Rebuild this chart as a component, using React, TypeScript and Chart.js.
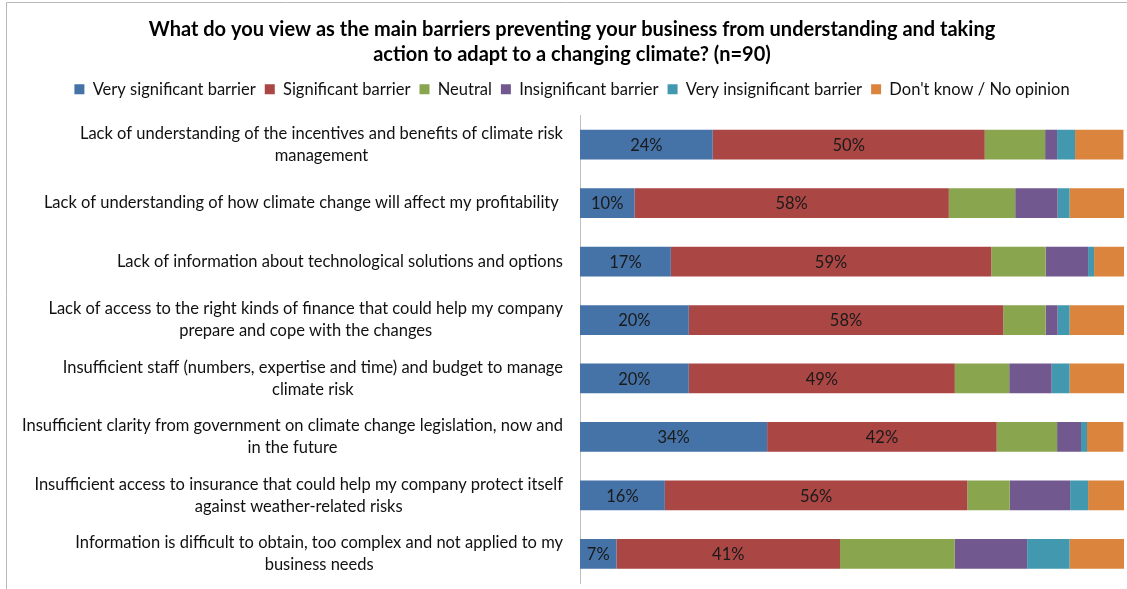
import { useEffect, useRef } from 'react';
import { Chart, registerables } from 'chart.js';

Chart.register(...registerables);

const categories: string[][] = [
  ['Lack of understanding of the incentives and benefits of climate risk', 'management'],
  ['Lack of understanding of how climate change will affect my profitability '],
  ['Lack of information about technological solutions and options'],
  ['Lack of access to the right kinds of finance that could help my company', 'prepare and cope with the changes'],
  ['Insufficient staff (numbers, expertise and time) and budget to manage', 'climate risk'],
  ['Insufficient clarity from government on climate change legislation, now and', 'in the future'],
  ['Insufficient access to insurance that could help my company protect itself', 'against weather-related risks'],
  ['Information is difficult to obtain, too complex and not applied to my', 'business needs'],
];

const seriesNames = [
  'Very significant barrier',
  'Significant barrier',
  'Neutral',
  'Insignificant barrier',
  'Very insignificant barrier',
  "Don't know / No opinion",
];

const verySignificant = [24.4, 10.0, 16.7, 20.0, 20.0, 34.4, 15.6, 6.7];
const significant = [50.0, 57.8, 58.9, 57.8, 48.9, 42.2, 55.6, 41.1];
const neutral = [11.1, 12.2, 10.0, 7.8, 10.0, 11.1, 7.8, 21.1];
const insignificant = [2.2, 7.8, 7.8, 2.2, 7.8, 4.4, 11.1, 13.3];
const veryInsignificant = [3.3, 2.2, 1.1, 2.2, 3.3, 1.1, 3.3, 7.8];
const dontKnow = [8.9, 10.0, 5.6, 10.0, 10.0, 6.7, 6.7, 10.0];

const colors = ['#4572A7', '#AA4643', '#89A54E', '#71588F', '#4198AF', '#DB843D'];

const titleLines = [
  'What do you view as the main barriers preventing your business from understanding and taking',
  'action to adapt to a changing climate? (n=90)',
];

const FONT = 'Lato, "Open Sans", sans-serif';
const TEXT_SIZE = 16.5;

const labelPlugin = {
  id: 'customLabels',
  afterDatasetsDraw(chart: any) {
    const ctx = chart.ctx;
    ctx.save();
    ctx.font = `${TEXT_SIZE}px ${FONT}`;
    ctx.fillStyle = '#1a1a1a';
    ctx.textAlign = 'center';
    ctx.textBaseline = 'middle';
    [0, 1].forEach((di) => {
      const meta = chart.getDatasetMeta(di);
      meta.data.forEach((el: any, i: number) => {
        const v = chart.data.datasets[di].data[i] as number;
        const cx = (el.x + el.base) / 2;
        ctx.fillText(`${Math.round(v)}%`, cx, el.y + 1);
      });
    });
    // category labels
    const yScale = chart.scales.y;
    const rightEdge = chart.chartArea.left - 17;
    const lh = 22;
    categories.forEach((lines, i) => {
      const cy = yScale.getPixelForValue(i);
      const widths = lines.map((l) => ctx.measureText(l).width);
      const maxW = Math.max(...widths);
      const centerX = rightEdge - maxW / 2;
      const startY = cy - ((lines.length - 1) * lh) / 2;
      ctx.fillStyle = '#111';
      lines.forEach((l, k) => {
        ctx.fillText(l, centerX, startY + k * lh);
      });
    });
    ctx.restore();
  },
  beforeDraw(chart: any) {
    const ctx = chart.ctx;
    ctx.save();
    ctx.strokeStyle = '#b8b8b8';
    ctx.lineWidth = 1;
    ctx.beginPath();
    ctx.moveTo(6.5, 589);
    ctx.lineTo(6.5, 2.5);
    ctx.lineTo(1127, 2.5);
    ctx.stroke();
    ctx.restore();
  },
};

export default function App() {
  const ref = useRef<HTMLCanvasElement>(null);
  useEffect(() => {
    const series = [verySignificant, significant, neutral, insignificant, veryInsignificant, dontKnow];
    const chart = new Chart(ref.current!, {
      type: 'bar',
      data: {
        labels: categories.map((c) => c.join(' ')),
        datasets: series.map((d, i) => ({
          label: seriesNames[i],
          data: d,
          backgroundColor: colors[i],
          borderWidth: 0,
          barPercentage: 0.51,
          categoryPercentage: 1,
        })),
      },
      options: {
        indexAxis: 'y',
        animation: false,
        responsive: false,
        layout: { padding: { left: 20, right: 3, top: 0, bottom: 6 } },
        scales: {
          x: {
            stacked: true,
            min: 0,
            max: 100,
            position: 'top',
            grid: { display: false },
            border: { display: false },
            ticks: { display: false },
            afterFit: (s: any) => {
              s.height = 8;
            },
          },
          y: {
            stacked: true,
            grid: { display: false },
            border: { display: true, color: '#bfbfbf', width: 1 },
            ticks: { display: false },
            afterFit: (s: any) => {
              s.width = 560;
            },
          },
        },
        plugins: {
          title: {
            display: true,
            text: titleLines,
            color: '#000',
            font: { family: FONT, size: 20, weight: 'bold', lineHeight: 1.25 },
            padding: { top: 17, bottom: 5 },
          },
          legend: {
            display: true,
            position: 'top',
            labels: {
              boxWidth: 10,
              boxHeight: 10,
              color: '#111',
              font: { family: FONT, size: TEXT_SIZE },
              padding: 9,
            },
          },
          tooltip: { enabled: false },
        },
      } as any,
      plugins: [labelPlugin],
    });
    return () => chart.destroy();
  }, []);
  return (
    <div style={{ position: 'absolute', left: 0, top: 0, width: 1127, height: 589, background: '#fff' }}>
      <canvas ref={ref} width={1127} height={589} style={{ display: 'block' }} />
    </div>
  );
}
